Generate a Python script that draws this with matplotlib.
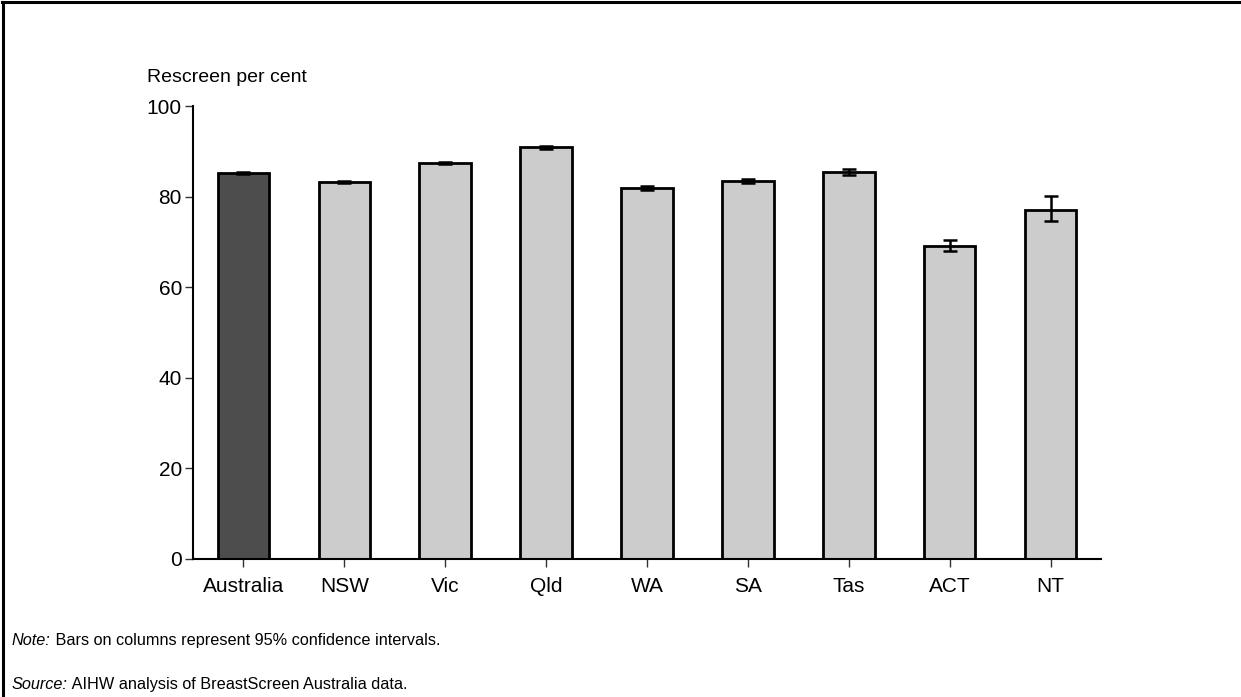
import matplotlib.pyplot as plt
from matplotlib.lines import Line2D
import numpy as np

plt.rcParams['font.family'] = ['Liberation Sans', 'DejaVu Sans']

regions = ['Australia', 'NSW', 'Vic', 'Qld', 'WA', 'SA', 'Tas', 'ACT', 'NT']
rescreen = [85.2, 83.2, 87.4, 90.9, 81.9, 83.5, 85.4, 69.1, 77.0]
ci_low = [84.9, 83.0, 87.1, 90.6, 81.4, 83.1, 84.7, 68.0, 74.6]
ci_high = [85.5, 83.4, 87.7, 91.2, 82.4, 83.9, 86.2, 70.5, 80.1]
y_ticks = [0, 20, 40, 60, 80, 100]

fig = plt.figure(figsize=(12.41, 6.97), dpi=100)
ax = fig.add_axes([193 / 1241, 1 - 559 / 697, (1101 - 193) / 1241, (559 - 106) / 697])

x = np.arange(len(regions))
colors = ['#4d4d4d'] + ['#cccccc'] * (len(regions) - 1)
vals = np.array(rescreen)
yerr = [vals - np.array(ci_low), np.array(ci_high) - vals]

ax.bar(x, vals, width=0.51, color=colors, edgecolor='black', linewidth=2, zorder=2)
ax.errorbar(x, vals, yerr=yerr, fmt='none', ecolor='black', elinewidth=1.8,
            capsize=5, capthick=1.8, zorder=3)

ax.set_xlim(-0.5, 8.5)
ax.set_ylim(0, 100)
ax.set_xticks(x)
ax.set_xticklabels(regions)
ax.set_yticks(y_ticks)
ax.tick_params(axis='both', labelsize=15, direction='out', length=6, width=1, color='#333333')
ax.tick_params(axis='x', pad=7)
ax.tick_params(axis='y', pad=2)
for side in ['top', 'right']:
    ax.spines[side].set_visible(False)
ax.spines['left'].set_linewidth(1.5)
ax.spines['bottom'].set_linewidth(1.5)

fig.text(147 / 1241, 1 - 77 / 697, 'Rescreen per cent', fontsize=14, va='center', ha='left')


def footnote(y, label, rest):
    t = fig.text(12 / 1241, 1 - y / 697, label, fontsize=11.7, fontstyle='italic',
                 va='baseline')
    ax.annotate(rest, xy=(1, 0), xycoords=t, fontsize=11.7, va='bottom',
                annotation_clip=False)


footnote(645, 'Note:', ' Bars on columns represent 95% confidence intervals.')
footnote(689, 'Source:', ' AIHW analysis of BreastScreen Australia data.')

# frame: top and left edges only
fig.add_artist(Line2D([3 / 1241, 3 / 1241], [0, 1 - 2 / 697], transform=fig.transFigure,
                      color='black', linewidth=2.2))
fig.add_artist(Line2D([2 / 1241, 1], [1 - 2 / 697, 1 - 2 / 697], transform=fig.transFigure,
                      color='black', linewidth=2.2))

fig.savefig('out.png', dpi=100)
